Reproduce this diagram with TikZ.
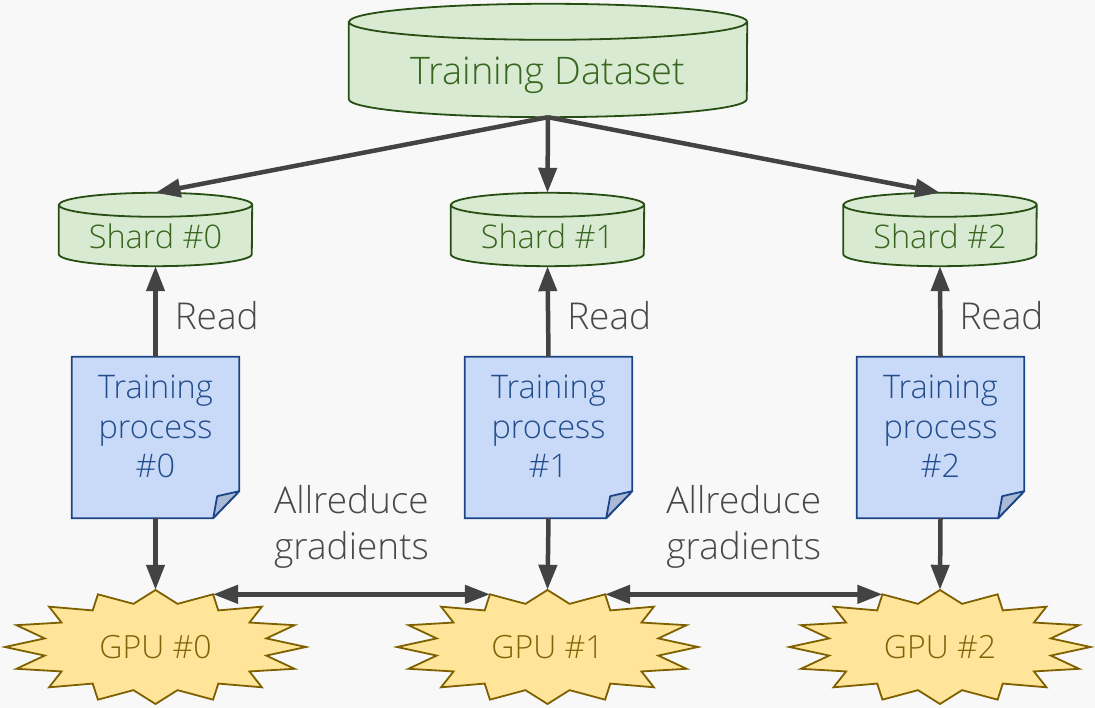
\documentclass[tikz,border=0pt]{standalone}
\usepackage{fontspec}
\setmainfont{Open Sans}[UprightFont={* Light}]
\usetikzlibrary{arrows.meta,calc}
\definecolor{pagebg}{HTML}{F8F8F8}
\definecolor{gfill}{HTML}{D9EAD3}
\definecolor{gline}{HTML}{274E13}
\definecolor{gtext}{HTML}{38661E}
\definecolor{bfill}{HTML}{C9DAF8}
\definecolor{bline}{HTML}{1C4587}
\definecolor{btext}{HTML}{224D8C}
\definecolor{bfold}{HTML}{A9B9D6}
\definecolor{yfill}{HTML}{FFE599}
\definecolor{yline}{HTML}{7F6000}
\definecolor{ytext}{HTML}{806209}
\definecolor{agray}{HTML}{434343}
\definecolor{lgray}{HTML}{484848}
\pgfdeclarelayer{back}
\pgfdeclarelayer{shapes}
\pgfsetlayers{back,shapes,main}
\tikzset{
  holder/.style={draw=none, inner sep=0pt},
  cylbody/.style={fill=gfill, draw=gline, line width=1.8pt},
  docbody/.style={fill=bfill, draw=bline, line width=1.8pt, line join=miter},
  docfold/.style={fill=bfold, draw=bline, line width=1.8pt, line join=round},
  gpubody/.style={fill=yfill, draw=yline, line width=1.8pt, line join=miter},
  dstxt/.style={inner sep=0pt, text=gtext, font=\fontsize{38}{42}\selectfont},
  shtxt/.style={inner sep=0pt, text=gtext, font=\fontsize{32.5}{36}\selectfont},
  doctxt/.style={inner sep=0pt, text=btext, align=center, font=\fontsize{32.5}{39.5}\selectfont},
  gputxt/.style={text=ytext, font=\fontsize{32}{36}\selectfont},
  lbl/.style={inner sep=0pt, text=lgray, align=center, font=\fontsize{37}{46}\selectfont},
  arr/.style={draw=agray, line width=4.5pt, -{Triangle[length=25pt,width=18pt]}},
  darr/.style={draw=agray, line width=4.5pt, {Triangle[length=25pt,width=18pt]}-{Triangle[length=25pt,width=18pt]}},
}
% #1 node, #2 ellipse y radius, #3 half width
\newcommand\drawcyl[3]{%
  \begin{pgfonlayer}{shapes}
  \path[cylbody]
    ([yshift=-#2pt]#1.north west) -- ([yshift=#2pt]#1.south west)
      arc[start angle=180,end angle=360,x radius=#3pt,y radius=#2pt]
    -- ([yshift=-#2pt]#1.north east)
      arc[start angle=0,end angle=180,x radius=#3pt,y radius=#2pt] -- cycle
    ([yshift=-#2pt]#1.north west)
      arc[start angle=180,end angle=360,x radius=#3pt,y radius=#2pt];
  \end{pgfonlayer}}
\newcommand\drawdoc[1]{%
  \begin{pgfonlayer}{shapes}
  \path[docbody] (#1.north west) -- (#1.north east) -- ([yshift=27pt]#1.south east)
    -- ([xshift=-26pt]#1.south east) -- (#1.south west) -- cycle;
  \path[docfold] ([xshift=-26pt]#1.south east) -- ([xshift=-22pt,yshift=22pt]#1.south east)
    -- ([yshift=27pt]#1.south east) -- cycle;
  \end{pgfonlayer}}
\newcommand\drawgpu[1]{%
  \begin{pgfonlayer}{shapes}
  \path[gpubody] ($(#1.center)+(0:150.5 and 57)$)
    \foreach \i in {0,...,15}{ -- ($(#1.center)+({\i*22.5+11.25}:113 and 44)$)
      -- ($(#1.center)+({\i*22.5+22.5}:150.5 and 57)$) } -- cycle;
  \end{pgfonlayer}
  \coordinate (#1-r) at ($(#1.center)+(67.5:150.5 and 57)$);
  \coordinate (#1-l) at ($(#1.center)+(112.5:150.5 and 57)$);}
\begin{document}
\begin{tikzpicture}[x=1pt,y=1pt]
\begin{pgfonlayer}{back}
\fill[pagebg] (0,0) rectangle (1095,708);
\end{pgfonlayer}
\useasboundingbox (0,0) rectangle (1095,708);

% dataset
\node[holder, minimum width=398pt, minimum height=113pt] (ds) at (548,647.5) {};
\drawcyl{ds}{18}{199}
\node[dstxt] (dslabel) at ([yshift=-15pt]ds.center) {Training Dataset};

% shards
\foreach \n/\x in {0/155.5,1/547.5,2/940}{
  \node[holder, minimum width=193pt, minimum height=73pt] (shard\n) at (\x,478.5) {};
  \drawcyl{shard\n}{12}{96.5}
  \node[shtxt] (shardlabel\n) at ([yshift=-7pt]shard\n.center) {Shard \#\n};
}

% training processes
\foreach \n/\x in {0/155.5,1/548.5,2/940.5}{
  \node[holder, minimum width=167pt, minimum height=161pt] (tp\n) at (\x,270.5) {};
  \drawdoc{tp\n}
  \node[doctxt] (tplabel\n) at ([yshift=11pt]tp\n.center) {Training\\process\\\#\n};
}

% GPUs
\foreach \n/\x in {0/155.5,1/547.5,2/940}{
  \node[holder, gputxt, minimum width=301pt, minimum height=114pt] (gpu\n) at (\x,61) {GPU \#\n};
  \drawgpu{gpu\n}
}

% arrows
\draw[arr] (ds.south) -- (shard0.north);
\draw[arr] (ds.south) -- (shard1.north);
\draw[arr] (ds.south) -- (shard2.north);
\foreach \n in {0,1,2}{
  \draw[arr] (tp\n.north) -- node[lbl, anchor=west, xshift=17pt, yshift=-4.5pt] (read\n) {Read} (shard\n.south);
  \draw[arr] (tp\n.south) -- (gpu\n.north);
}
\draw[darr] (gpu0-r) -- node[lbl, yshift=67pt] (ar0) {Allreduce\\gradients} (gpu1-l);
\draw[darr] (gpu1-r) -- node[lbl, yshift=67pt] (ar1) {Allreduce\\gradients} (gpu2-l);
\end{tikzpicture}
\end{document}
